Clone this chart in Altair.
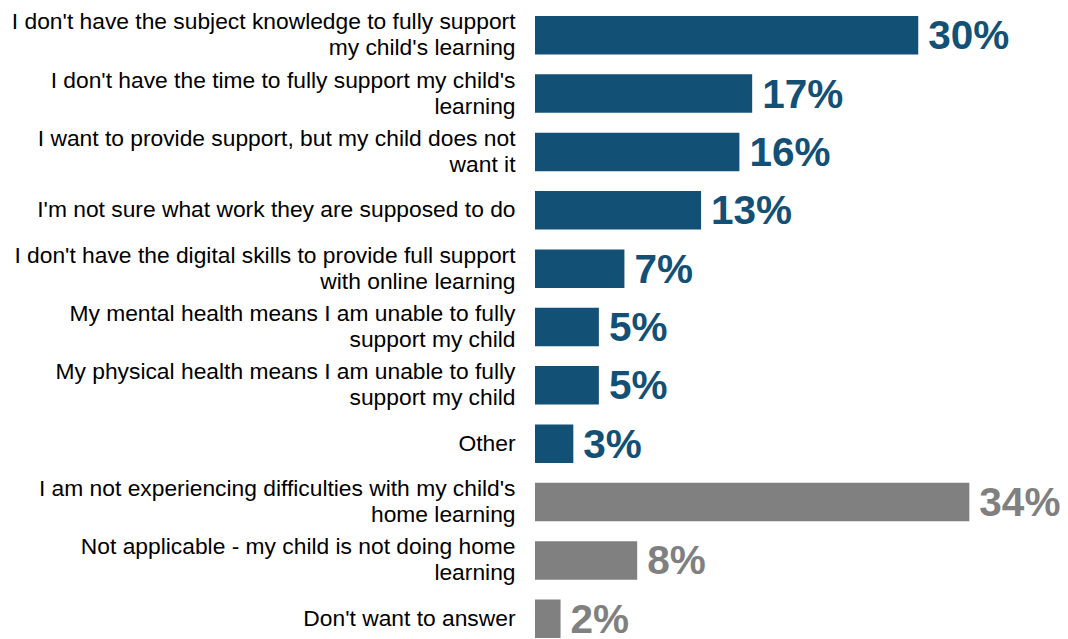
import altair as alt
import pandas as pd

categories = [
    "I don't have the subject knowledge to fully support\nmy child's learning",
    "I don't have the time to fully support my child's\nlearning",
    "I want to provide support, but my child does not\nwant it",
    "I'm not sure what work they are supposed to do",
    "I don't have the digital skills to provide full support\nwith online learning",
    "My mental health means I am unable to fully\nsupport my child",
    "My physical health means I am unable to fully\nsupport my child",
    "Other",
    "I am not experiencing difficulties with my child's\nhome learning",
    "Not applicable - my child is not doing home\nlearning",
    "Don't want to answer",
]
values = [30, 17, 16, 13, 7, 5, 5, 3, 34, 8, 2]
groups = ["difficulty"] * 8 + ["none"] * 3

df = pd.DataFrame({"category": categories, "value": values, "group": groups})

color = alt.Color(
    "group:N",
    scale=alt.Scale(domain=["difficulty", "none"], range=["#125076", "#808080"]),
    legend=None,
)

y = alt.Y(
    "category:N",
    sort=None,
    title=None,
    scale=alt.Scale(paddingInner=0.34, paddingOuter=0.137),
    axis=alt.Axis(
        domain=False,
        ticks=False,
        labelExpr="split(datum.value, '\\n')",
        labelFont="Liberation Sans",
        labelFontSize=22.8,
        labelLineHeight=26,
        labelColor="#000000",
        labelPadding=20,
        labelLimit=600,
        labelAlign="right",
        labelBaseline={
            "condition": {"test": "indexof(datum.value, '\\n') >= 0", "value": "line-bottom"},
            "value": "middle",
        },
    ),
)
x = alt.X(
    "value:Q",
    title=None,
    scale=alt.Scale(domain=[0, 40], nice=False),
    axis=None,
)

bars = alt.Chart(df).mark_bar().encode(x=x, y=y, color=color)
text = (
    alt.Chart(df)
    .transform_calculate(pct="format(datum.value, '.0f') + '%'")
    .mark_text(
        align="left", baseline="middle", dx=10, dy=2,
        font="Liberation Sans", fontWeight="bold", fontSize=40.5,
    )
    .encode(x=x, y=y, text="pct:N", color=color)
)

chart = (bars + text).properties(
    width=511, height=638,
    autosize=alt.AutoSizeParams(type="none"),
    padding={"left": 527, "top": 0, "right": 14, "bottom": 0},
).configure_view(stroke=None)

chart.save("out.html", embed_options={"renderer": "svg", "actions": False})
